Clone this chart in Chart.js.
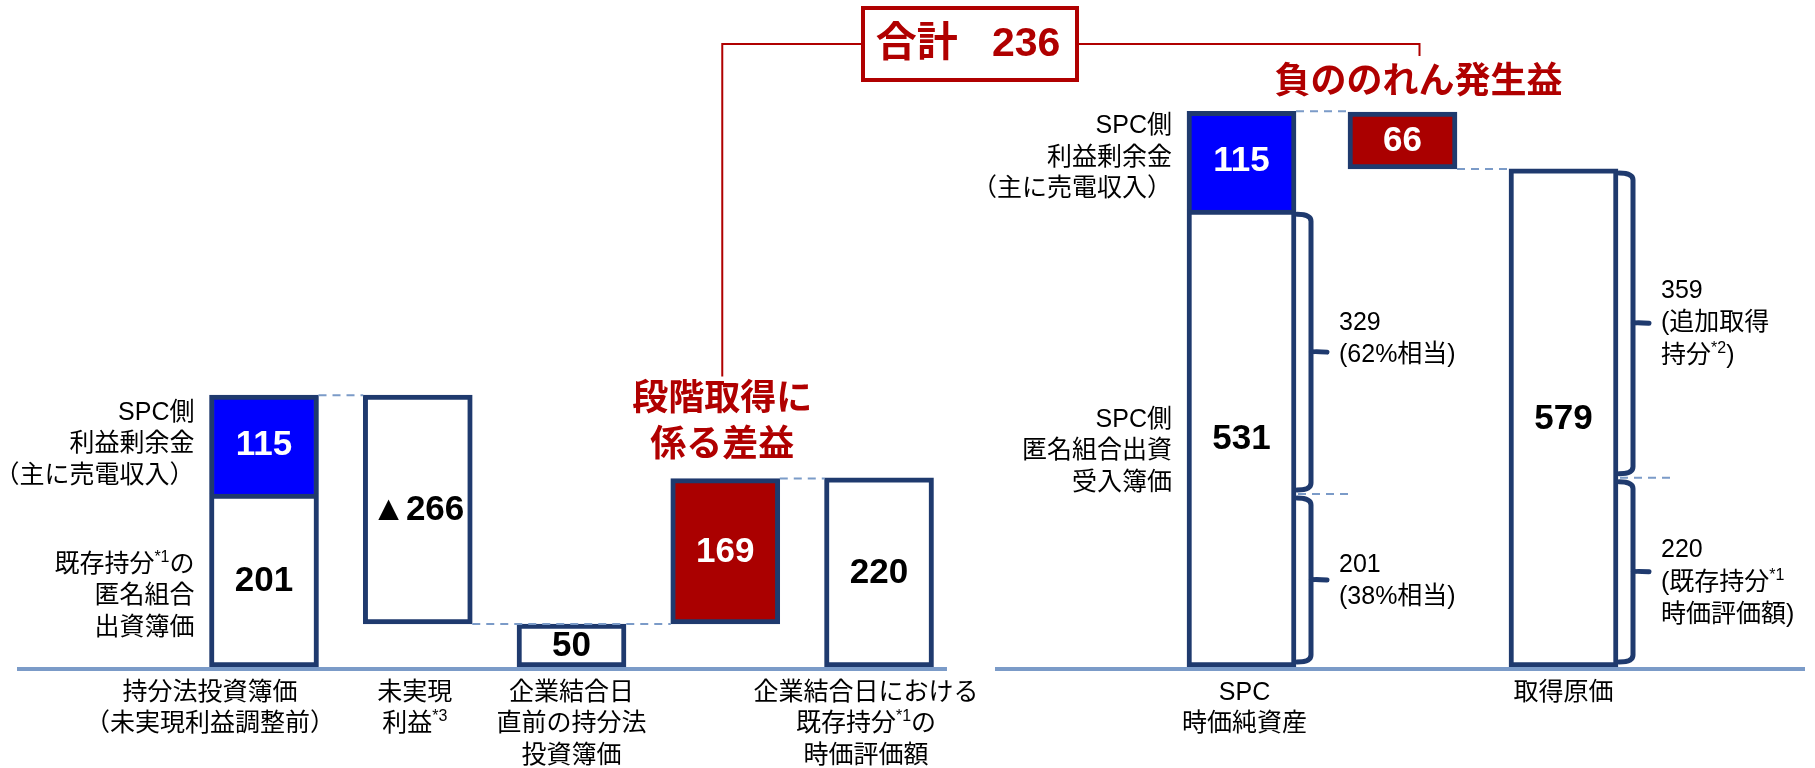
<!DOCTYPE html>
<html lang="ja">
<head>
<meta charset="utf-8">
<title>段階取得に係る差益・負ののれん発生益</title>
<script src="https://cdn.jsdelivr.net/npm/chart.js@4.4.1/dist/chart.umd.min.js"></script>
<style>
  html, body { margin: 0; padding: 0; background: #fff; }
  #box { width: 1815px; height: 768px; }
</style>
</head>
<body>
<div id="box"><canvas id="chart" width="1815" height="768"></canvas></div>
<script>
// ---- data ----
// 左：持分法投資簿価 → 企業結合日における既存持分の時価評価額
const leftCats = [
  ['持分法投資簿価', '（未実現利益調整前）'],
  ['未実現', '利益{*3}'],
  ['企業結合日', '直前の持分法', '投資簿価'],
  [],
  ['企業結合日における', '既存持分{*1}の', '時価評価額']
];
const stakeBook = [201];      // 既存持分の匿名組合出資簿価
const spcEarnings = [115];    // SPC側 利益剰余金
const unrealized = [-266];    // 未実現利益
const preBook = [50];         // 企業結合日直前の持分法投資簿価
const stepGain = [169];       // 段階取得に係る差益
const stakeFair = [220];      // 既存持分の時価評価額

// 右：SPC時価純資産 → 取得原価
const rightCats = [['SPC', '時価純資産'], [], ['取得原価']];
const spcCapital = [531];     // SPC側 匿名組合出資受入簿価
const negGoodwill = [66];     // 負ののれん発生益
const acqCost = [579];        // 取得原価
const spcShares = [201, 329];
const spcShareText = [['201', '(38%相当)'], ['329', '(62%相当)']];
const costShares = [220, 359];
const costShareText = [['220', '(既存持分{*1}', '時価評価額)'], ['359', '(追加取得', '持分{*2})']];
const grandTotal = [236];

// ---- styles ----
const NAVY = '#1f3a6e';
const BLUE = '#0000ff';
const RED = '#aa0000';
const TEXT_RED = '#b00000';
const LINE_BLUE = '#7b9bc8';
const FONT = "'Liberation Sans', 'Noto Sans CJK JP', sans-serif";
const BAR = 109;

const leftTop = stakeBook[0] + spcEarnings[0];
const spcTop = spcCapital[0] + spcEarnings[0];

const notes = [
  {axis: 'xl', x: 0, range: [stakeBook[0], leftTop], lines: ['SPC側', '利益剰余金', '（主に売電収入）']},
  {axis: 'xl', x: 0, range: [0, stakeBook[0]], lines: ['既存持分{*1}の', '匿名組合', '出資簿価']},
  {axis: 'xr', x: 0, range: [spcCapital[0], spcTop], lines: ['SPC側', '利益剰余金', '（主に売電収入）']},
  {axis: 'xr', x: 0, range: [0, spcCapital[0]], lines: ['SPC側', '匿名組合出資', '受入簿価']}
];
const noteShift = [0, 16, -3, 13];

const dashes = [
  {axis: 'xl', from: 0, to: 1, value: leftTop},
  {axis: 'xl', from: 1, to: 3, value: preBook[0]},
  {axis: 'xl', from: 3, to: 4, value: preBook[0] + stepGain[0]},
  {axis: 'xr', from: 0, to: 1, value: spcTop},
  {axis: 'xr', from: 1, to: 2, value: acqCost[0]}
];

const leftShift = [-54, -3, 0, 0, -13];
const rightShift = [3, 0, 0];

// ---- drawing helpers ----
function rich(ctx, str, x, y, align, size, weight)
{
  const parts = str.split(/(\{[^}]*\})/).filter(s => s.length);
  const fontOf = sup => (weight || 'normal') + ' ' + (sup ? Math.round(size * 0.62) : size) + 'px ' + FONT;
  let w = 0;
  const segs = parts.map(p =>
  {
    const sup = p.charAt(0) == '{';
    const text = sup ? p.slice(1, -1) : p;
    ctx.font = fontOf(sup);
    const sw = ctx.measureText(text).width;
    w += sw;
    return {text, sup, sw};
  });
  let cx = align == 'center' ? x - w / 2 : (align == 'right' ? x - w : x);
  ctx.textAlign = 'left';
  ctx.textBaseline = 'middle';
  segs.forEach(s =>
  {
    ctx.font = fontOf(s.sup);
    ctx.fillText(s.text, cx, s.sup ? y - size * 0.3 : y);
    cx += s.sw;
  });
}

function block(ctx, lines, x, yc, align, size, lh)
{
  const y0 = yc - (lines.length - 1) * lh / 2;
  lines.forEach((l, i) => rich(ctx, l, x, y0 + i * lh, align, size));
}

function dashLine(ctx, x1, x2, y)
{
  ctx.save();
  ctx.strokeStyle = LINE_BLUE;
  ctx.lineWidth = 2;
  ctx.setLineDash([8, 6]);
  ctx.beginPath();
  ctx.moveTo(x1, y);
  ctx.lineTo(x2, y);
  ctx.stroke();
  ctx.restore();
}

function bracket(ctx, xEdge, yTop, yBot)
{
  const xv = xEdge + 15, r = 7, ym = (yTop + yBot) / 2;
  ctx.save();
  ctx.strokeStyle = NAVY;
  ctx.lineWidth = 5;
  ctx.lineCap = 'round';
  ctx.lineJoin = 'round';
  ctx.beginPath();
  ctx.moveTo(xEdge + 1, yTop);
  ctx.quadraticCurveTo(xv, yTop, xv, yTop + r);
  ctx.lineTo(xv, yBot - r);
  ctx.quadraticCurveTo(xv, yBot, xEdge + 1, yBot);
  ctx.moveTo(xv, ym);
  ctx.quadraticCurveTo(xv + 2, ym - 1, xv + 16, ym);
  ctx.stroke();
  ctx.restore();
  return {xv, ym};
}

const annot =
{
  id: 'annot',
  beforeDatasetsDraw(chart)
  {
    const ctx = chart.ctx, s = chart.scales;
    const yb = s.y.getPixelForValue(0) + 2;
    ctx.save();
    ctx.strokeStyle = LINE_BLUE;
    ctx.lineWidth = 4;
    ctx.beginPath();
    ctx.moveTo(s.xl.getPixelForValue(-1.6065), yb);
    ctx.lineTo(s.xl.getPixelForValue(4.442), yb);
    ctx.moveTo(s.xr.getPixelForValue(-1.531), yb);
    ctx.lineTo(s.xr.getPixelForValue(3.5), yb);
    ctx.stroke();
    ctx.restore();
  },
  afterDatasetsDraw(chart)
  {
    const ctx = chart.ctx, s = chart.scales;
    const y = v => s.y.getPixelForValue(v);
    const half = BAR / 2;

    // dashed level lines between bars
    dashes.forEach(d => dashLine(ctx, s[d.axis].getPixelForValue(d.from) + half, s[d.axis].getPixelForValue(d.to) - half, y(d.value)));

    // value labels inside bars
    chart.data.datasets.forEach((ds, i) =>
    {
      const meta = chart.getDatasetMeta(i);
      meta.data.forEach((el, j) =>
      {
        ctx.fillStyle = ds.labelColor;
        rich(ctx, ds.valueLabels[j], el.x, (el.y + el.base) / 2 + 1, 'center', 35, 'bold');
      });
    });

    // notes left of bars
    ctx.fillStyle = '#000';
    notes.forEach((n, i) =>
    {
      const xp = s[n.axis].getPixelForValue(n.x) - half - 15;
      block(ctx, n.lines, xp, (y(n.range[0]) + y(n.range[1])) / 2 + noteShift[i], 'right', 25, 31.5);
    });

    // category labels
    const yl = y(0) + 26;
    leftCats.forEach((c, i) => c.forEach((l, k) => rich(ctx, l, s.xl.getPixelForValue(i) + leftShift[i], yl + k * 31.5, 'center', 25)));
    rightCats.forEach((c, i) => c.forEach((l, k) => rich(ctx, l, s.xr.getPixelForValue(i) + rightShift[i], yl + k * 31.5, 'center', 25)));

    // brackets with share labels
    const groups = [
      {x: 0, shares: spcShares, text: spcShareText, top: spcCapital[0], dy: [1, -13]},
      {x: 2, shares: costShares, text: costShareText, top: acqCost[0], dy: [11, 0]}
    ];
    groups.forEach(g =>
    {
      const xEdge = s.xr.getPixelForValue(g.x) + half;
      const split = g.shares[0];
      const lo = bracket(ctx, xEdge, y(split) + 4, y(0) - 5);
      const hi = bracket(ctx, xEdge, y(g.top) + 4, y(split) - 4);
      dashLine(ctx, xEdge + 2, xEdge + 56, y(split));
      ctx.fillStyle = '#000';
      block(ctx, g.text[0], lo.xv + 28, lo.ym + g.dy[0], 'left', 25, 32.5);
      block(ctx, g.text[1], hi.xv + 28, hi.ym + g.dy[1], 'left', 25, 32.5);
    });

    // red headings and total box
    const redMeta = chart.getDatasetMeta(2).data[0];
    const ngMeta = chart.getDatasetMeta(5).data[0];
    const lx = redMeta.x - 3;
    const rx = ngMeta.x + 17;
    ctx.fillStyle = TEXT_RED;
    rich(ctx, '段階取得に', lx, redMeta.y - 79, 'center', 36, 'bold');
    rich(ctx, '係る差益', lx, redMeta.y - 33, 'center', 36, 'bold');
    rich(ctx, '負ののれん発生益', rx - 1, ngMeta.y - 29, 'center', 36, 'bold');

    const bx = 970, by = 44, bw = 214, bh = 72;
    ctx.save();
    ctx.strokeStyle = TEXT_RED;
    ctx.lineWidth = 2;
    ctx.beginPath();
    ctx.moveTo(lx, redMeta.y - 102);
    ctx.lineTo(lx, by);
    ctx.lineTo(bx - bw / 2, by);
    ctx.moveTo(bx + bw / 2, by);
    ctx.lineTo(rx, by);
    ctx.lineTo(rx, ngMeta.y - 56);
    ctx.stroke();
    ctx.lineWidth = 4;
    ctx.strokeRect(bx - bw / 2, by - bh / 2, bw, bh);
    ctx.restore();
    ctx.fillStyle = TEXT_RED;
    rich(ctx, '合計   ' + grandTotal[0], bx - 2, by + 1, 'center', 41, 'bold');
  }
};

const datasets = [
  {
    label: '簿価', xAxisID: 'xl', backgroundColor: '#ffffff', labelColor: '#000',
    valueLabels: [String(stakeBook[0]), '▲' + Math.abs(unrealized[0]), String(preBook[0]), String(stakeFair[0])],
    data: [
      {x: 0, y: [0, stakeBook[0]]},
      {x: 1, y: [leftTop + unrealized[0], leftTop]},
      {x: 2, y: [0, preBook[0]]},
      {x: 4, y: [0, stakeFair[0]]}
    ]
  },
  {
    label: '利益剰余金', xAxisID: 'xl', backgroundColor: BLUE, labelColor: '#fff', borderSkipped: 'bottom',
    valueLabels: [String(spcEarnings[0])],
    data: [{x: 0, y: [stakeBook[0], leftTop]}]
  },
  {
    label: '段階取得に係る差益', xAxisID: 'xl', backgroundColor: RED, labelColor: '#fff',
    valueLabels: [String(stepGain[0])],
    data: [{x: 3, y: [preBook[0], preBook[0] + stepGain[0]]}]
  },
  {
    label: '時価', xAxisID: 'xr', backgroundColor: '#ffffff', labelColor: '#000',
    valueLabels: [String(spcCapital[0]), String(acqCost[0])],
    data: [
      {x: 0, y: [0, spcCapital[0]]},
      {x: 2, y: [0, acqCost[0]]}
    ]
  },
  {
    label: 'SPC利益剰余金', xAxisID: 'xr', backgroundColor: BLUE, labelColor: '#fff', borderSkipped: 'bottom',
    valueLabels: [String(spcEarnings[0])],
    data: [{x: 0, y: [spcCapital[0], spcTop]}]
  },
  {
    label: '負ののれん発生益', xAxisID: 'xr', backgroundColor: RED, labelColor: '#fff',
    valueLabels: [String(negGoodwill[0])],
    data: [{x: 1, y: [acqCost[0], acqCost[0] + negGoodwill[0]]}]
  }
];

new Chart(document.getElementById('chart'),
{
  type: 'bar',
  data: {datasets: datasets},
  options:
  {
    responsive: false,
    animation: false,
    devicePixelRatio: 1,
    layout: {padding: {left: 17, right: 9, top: 8, bottom: 101}},
    datasets: {bar: {grouped: false, barThickness: BAR, borderWidth: 5, borderColor: NAVY, borderSkipped: false}},
    plugins: {legend: {display: false}, tooltip: {enabled: false}},
    scales:
    {
      xl: {axis: 'x', type: 'linear', display: false, offset: false, min: -1.6065, max: 10.029},
      xr: {axis: 'x', type: 'linear', display: false, offset: false, min: -7.6056, max: 3.5062},
      y: {display: false, min: 0, max: 766}
    }
  },
  plugins: [annot]
});
</script>
</body>
</html>
